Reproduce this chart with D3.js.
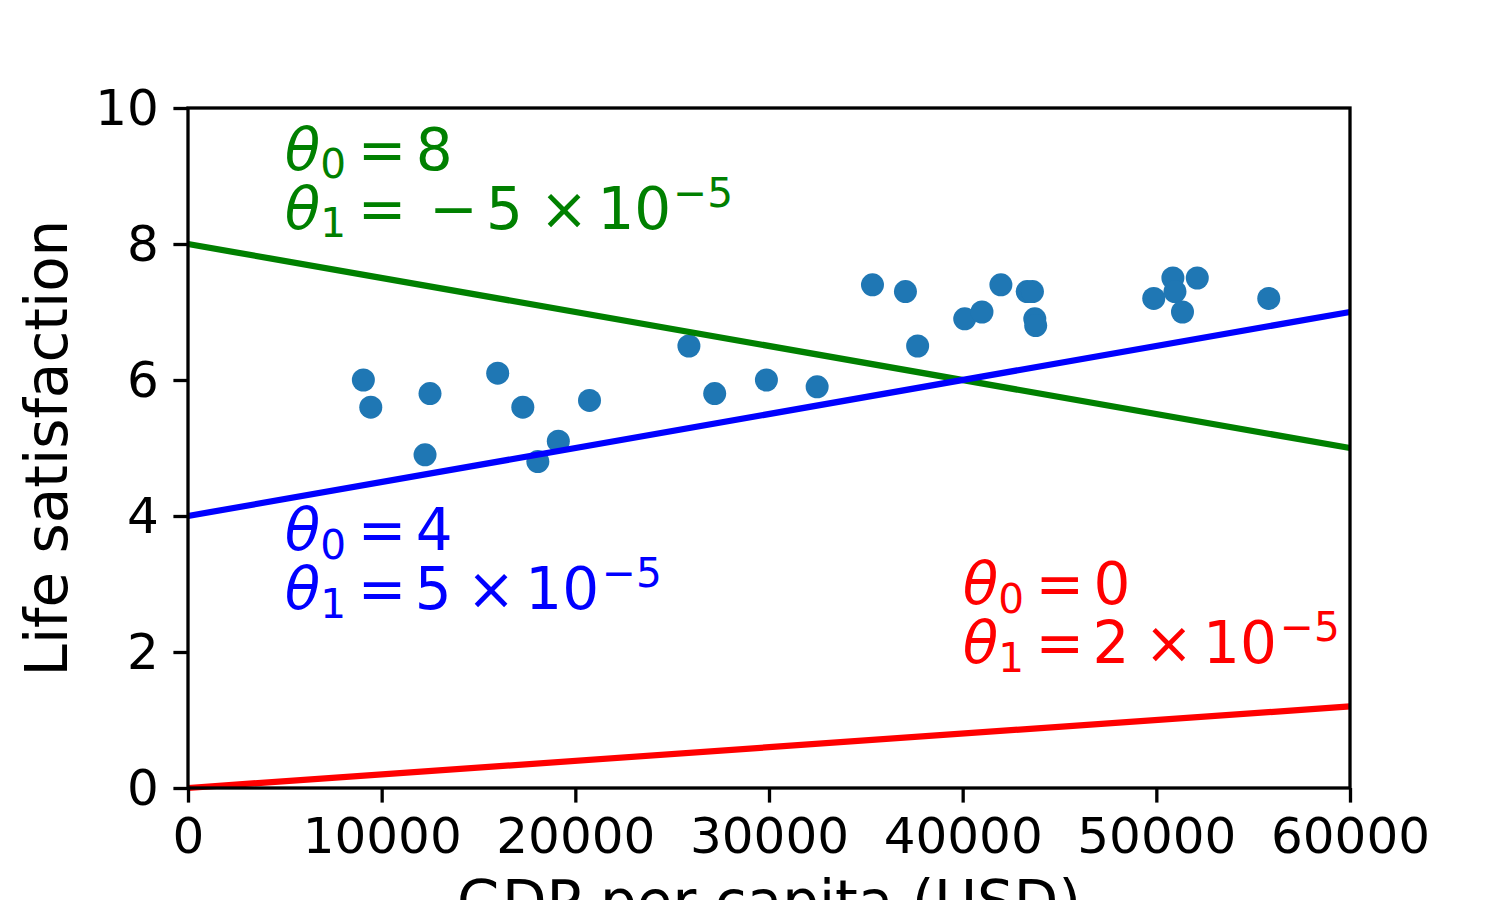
<!DOCTYPE html>
<html>
<head>
<meta charset="utf-8">
<script src="https://cdn.jsdelivr.net/npm/d3@7"></script>
<style>
  html, body { margin: 0; padding: 0; background: #fff; }
  svg text { font-family: "DejaVu Sans", sans-serif; }
</style>
</head>
<body>
<svg id="chart" width="1500" height="900"></svg>
<script>
// ----- data -----
var gdpPerCapita = [9054.914, 9437.372, 12239.894, 12495.334, 15991.736, 17288.083,
  18064.288, 19121.592, 20732.482, 25864.721, 27195.197, 29866.581, 32485.545,
  35343.336, 37044.891, 37675.006, 40106.632, 40996.511, 41973.988, 43331.961,
  43603.115, 43724.031, 43770.688, 49866.266, 50854.583, 50961.865, 51350.744,
  52114.165, 55805.204];
var lifeSatisfaction = [6.0, 5.6, 4.9, 5.8, 6.1, 5.6, 4.8, 5.1, 5.7, 6.5, 5.8, 6.0, 5.9,
  7.4, 7.3, 6.5, 6.9, 7.0, 7.4, 7.3, 7.3, 6.9, 6.8, 7.2, 7.5, 7.3, 7.0, 7.5, 7.2];

// three candidate models: theta0 + theta1 * x
var theta0s = [8, 4, 0];
var theta1s = [-5e-5, 5e-5, 2e-5];
var theta1Mantissa = ["−5", "5", "2"];
var xTicks = [0, 10000, 20000, 30000, 40000, 50000, 60000];
var yTicks = [0, 2, 4, 6, 8, 10];

(function(){
  // ----- layout -----
  var svg = d3.select("#chart");
  var pLeft = 188, pRight = 1350, pTop = 108, pBottom = 788;
  var tickLen = 14.6, tickPad = 14.6;
  var lineColors = ["#008000", "#0000ff", "#ff0000"];
  // label anchor (data coords of first-line baseline) per model
  var labelPos = [[5000, 9.09], [5000, 3.5], [40000, 2.7]];

  var x = d3.scaleLinear().domain([0, 60000]).range([pLeft, pRight]);
  var y = d3.scaleLinear().domain([0, 10]).range([pBottom, pTop]);

  // scatter
  svg.append("g").selectAll("circle")
    .data(gdpPerCapita)
    .enter().append("circle")
      .attr("cx", function(d){ return x(d); })
      .attr("cy", function(d, i){ return y(lifeSatisfaction[i]); })
      .attr("r", 11.5)
      .attr("fill", "#1f77b4");

  // model lines
  var line = d3.line()
    .x(function(d){ return x(d[0]); })
    .y(function(d){ return y(d[1]); });

  theta0s.forEach(function(t0, i){
    var t1 = theta1s[i];
    var pts = x.domain().map(function(v){ return [v, t0 + t1 * v]; });
    svg.append("path")
      .attr("d", line(pts))
      .attr("fill", "none")
      .attr("stroke", lineColors[i])
      .attr("stroke-width", 6.25);
  });

  // axes
  var xAxis = d3.axisBottom(x).tickValues(xTicks).tickFormat(d3.format("d"))
    .tickSize(tickLen).tickSizeOuter(0).tickPadding(tickPad);
  var yAxis = d3.axisLeft(y).tickValues(yTicks).tickFormat(d3.format("d"))
    .tickSize(tickLen).tickSizeOuter(0).tickPadding(tickPad);

  var gx = svg.append("g").attr("transform", "translate(0," + pBottom + ")").call(xAxis);
  var gy = svg.append("g").attr("transform", "translate(" + pLeft + ",0)").call(yAxis);
  [gx, gy].forEach(function(g){
    g.select(".domain").remove();
    g.selectAll(".tick line").attr("stroke", "#000").attr("stroke-width", 3.3);
    g.selectAll(".tick text")
      .attr("fill", "#000")
      .style("font-size", "50px")
      .style("font-family", "'DejaVu Sans', sans-serif");
  });

  // frame
  svg.append("rect")
    .attr("x", pLeft).attr("y", pTop)
    .attr("width", pRight - pLeft).attr("height", pBottom - pTop)
    .attr("fill", "none")
    .attr("stroke", "#000")
    .attr("stroke-width", 3.3);

  // axis labels
  svg.append("text")
    .attr("transform", "translate(67," + ((pTop + pBottom) / 2) + ") rotate(-90)")
    .attr("text-anchor", "middle")
    .style("font-size", "58px")
    .text("Life satisfaction");

  svg.append("text")
    .attr("x", (pLeft + pRight) / 2)
    .attr("y", 922)
    .attr("text-anchor", "middle")
    .style("font-size", "58px")
    .text("GDP per capita (USD)");

  // ----- theta annotations -----
  var fs = 58, subFs = 40.6, lineGap = 59;

  function mathLine(px, py, color, tokens){
    var t = svg.append("text")
      .attr("x", px).attr("y", py)
      .attr("fill", color)
      .style("font-size", fs + "px");
    var shift = 0;
    tokens.forEach(function(tk){
      var s = tk[0], kind = tk[1], dx = tk[2] || 0;
      var target = kind === "sub" ? 8.5 : (kind === "sup" ? -22 : 0);
      var ts = t.append("tspan")
        .attr("dx", dx)
        .attr("dy", target - shift)
        .text(s);
      shift = target;
      if (kind === "it") ts.style("font-style", "italic");
      if (kind === "sub" || kind === "sup") ts.style("font-size", subFs + "px");
    });
  }

  theta0s.forEach(function(t0, i){
    var px = x(labelPos[i][0]), py = y(labelPos[i][1]);
    mathLine(px, py, lineColors[i], [
      ["θ", "it"], ["0", "sub"], ["=", "n", 11.5], [String(t0), "n", 9.5]
    ]);
    var second = [["θ", "it"], ["1", "sub"], ["=", "n", 11.5]];
    var m = theta1Mantissa[i];
    if (m.charAt(0) === "−") {
      second.push(["−", "n", 23]);
      second.push([m.slice(1), "n", 8]);
      second.push(["×", "n", 17]);
      second.push(["10", "n", 9]);
      second.push(["−5", "sup", 2]);
    } else {
      second.push([m, "n", 8.5]);
      second.push(["×", "n", 15]);
      second.push(["10", "n", 10]);
      second.push(["−5", "sup", 3]);
    }
    mathLine(px, py + lineGap, lineColors[i], second);
  });
})();
</script>
</body>
</html>
